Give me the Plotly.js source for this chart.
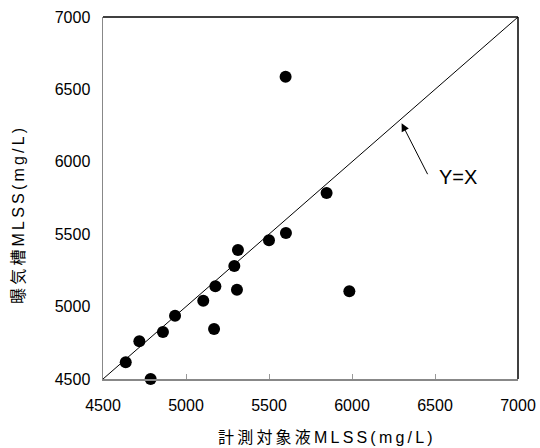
<!DOCTYPE html>
<html>
<head>
<meta charset="utf-8">
<script src="https://cdn.plot.ly/plotly-3.0.1.min.js"></script>
<style>
html,body{margin:0;padding:0;background:#fff;}
#chart{width:540px;height:448px;}
.annotation-text.sp{letter-spacing:3.2px;}
</style>
</head>
<body>
<div id="chart"></div>
<script>
// Measured (計測対象液) MLSS, mg/L
const measuredMLSS = [5600, 5847, 5602, 5500, 5313, 5291, 5177, 5307, 5104, 5984, 4934, 4861, 5169, 4719, 4637, 4787];
// Aeration tank (曝気槽) MLSS, mg/L
const tankMLSS     = [6588, 5785, 5508, 5458, 5391, 5280, 5140, 5117, 5041, 5106, 4937, 4825, 4845, 4760, 4615, 4500];
// Y = X reference line
const diagX = [4500, 7000];
const diagY = [4500, 7000];
const tickVals = [4500, 5000, 5500, 6000, 6500, 7000];
const tickText = ['4500', '5000', '5500', '6000', '6500', '7000'];
const lineLabel = 'Y=X';
const xTitle = '計測対象液MLSS(mg/L)';
const yTitle = '曝気槽MLSS(mg/L)';
// arrow head / tail in data units
const arrowHead = [6299, 6266];
const arrowTail = [6460, 5904];
const labelPos = [6640, 5895];

const font = 'Liberation Sans, Arial, Noto Sans CJK JP, sans-serif';

const traces = [
  {x: diagX, y: diagY, type: 'scatter', mode: 'lines',
   line: {color: '#000', width: 1}, hoverinfo: 'skip', showlegend: false},
  {x: measuredMLSS, y: tankMLSS, type: 'scatter', mode: 'markers',
   marker: {color: '#000', size: 12}, cliponaxis: false, showlegend: false}
];

const layout = {
  width: 540, height: 448,
  margin: {l: 103, r: 22, t: 17, b: 69},
  paper_bgcolor: '#fff', plot_bgcolor: '#fff',
  font: {family: font, size: 16, color: '#000'},
  showlegend: false,
  xaxis: {range: [4500, 7000], tickvals: tickVals, ticktext: tickText,
    showgrid: false, zeroline: false, showline: true, linecolor: '#888', linewidth: 1.5,
    ticks: 'inside', ticklen: 5, tickcolor: '#999', tickwidth: 1,
    ticklabelstandoff: 11, tickfont: {size: 16, family: font}},
  yaxis: {range: [4500, 7000], tickvals: tickVals, ticktext: tickText,
    showgrid: false, zeroline: false, showline: true, linecolor: '#888', linewidth: 1.5,
    ticks: '', ticklabelstandoff: 8, tickfont: {size: 16, family: font}},
  shapes: [
    {type: 'line', xref: 'paper', yref: 'paper', x0: 0, x1: 1, y0: 1, y1: 1, line: {color: '#000', width: 1.5}},
    {type: 'line', xref: 'paper', yref: 'paper', x0: 1, x1: 1, y0: 0, y1: 1, line: {color: '#000', width: 1.5}}
  ],
  annotations: [
    {x: arrowHead[0], y: arrowHead[1], ax: arrowTail[0], ay: arrowTail[1], axref: 'x', ayref: 'y',
     xref: 'x', yref: 'y', text: '', showarrow: true, arrowhead: 2, arrowsize: 1.6, arrowwidth: 1, arrowcolor: '#000'},
    {x: labelPos[0], y: labelPos[1], xref: 'x', yref: 'y', text: lineLabel, showarrow: false,
     font: {size: 20, family: font}},
    {x: 0.54, y: -0.162, xref: 'paper', yref: 'paper', text: xTitle, showarrow: false,
     xanchor: 'center', yanchor: 'middle', font: {size: 16, family: font}},
    {x: -0.205, y: 0.455, xref: 'paper', yref: 'paper', text: yTitle, showarrow: false, textangle: -90,
     xanchor: 'center', yanchor: 'middle', font: {size: 16, family: font}}
  ]
};

Plotly.newPlot('chart', traces, layout, {displayModeBar: false, staticPlot: true}).then(function(){
  document.querySelectorAll('.annotation-text').forEach(function(t){
    if (t.textContent.indexOf('MLSS') >= 0) t.classList.add('sp');
  });
});
</script>
</body>
</html>
